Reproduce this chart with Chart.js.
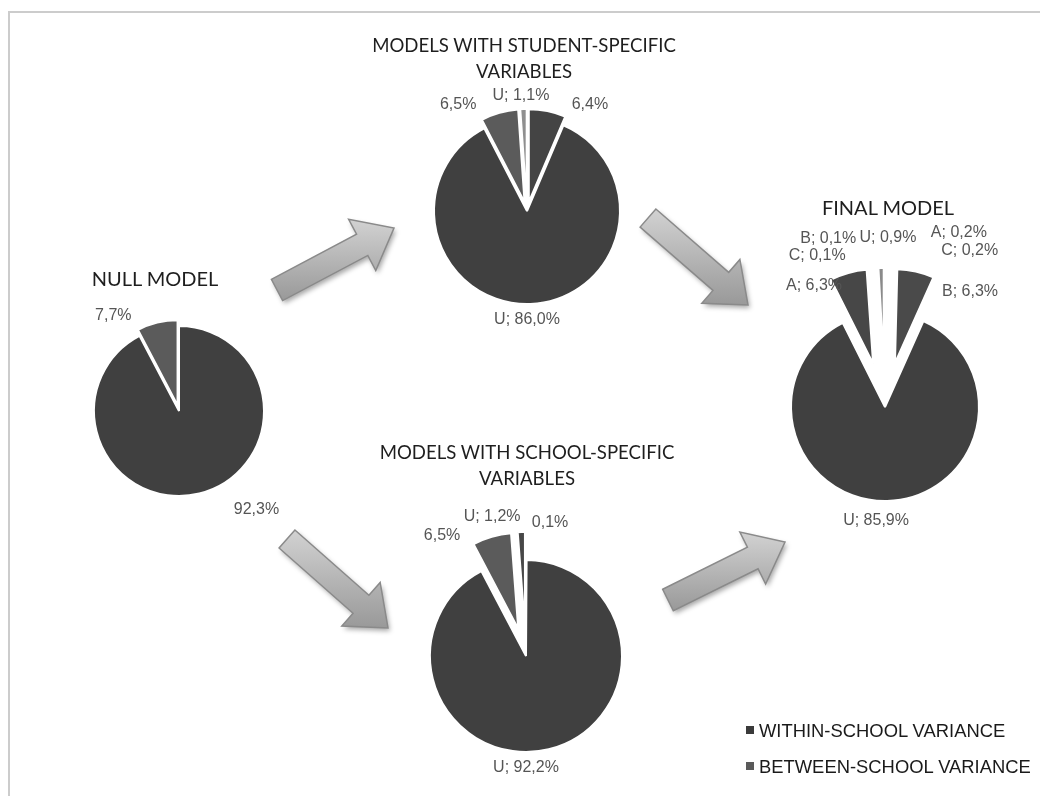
<!DOCTYPE html>
<html lang="en">
<head>
<meta charset="UTF-8">
<title>Variance decomposition</title>
<script src="https://cdn.jsdelivr.net/npm/chart.js"></script>
<style>
    html, body { margin: 0; padding: 0; background: #fff; overflow: hidden; }
    #stage { position: relative; width: 1040px; height: 796px; overflow: hidden; }
    #stage canvas { position: absolute; }
    .title {
        position: absolute;
        transform: translate(-50%, -50%);
        font-family: Lato, "Open Sans", sans-serif;
        font-size: 20px;
        line-height: 26px;
        color: #1e1e1e;
        text-align: center;
        white-space: nowrap;
    }
    .title.long { font-size: 18.6px; }
    .legend {
        position: absolute;
        left: 746px;
        font-family: "Liberation Sans", Arial, sans-serif;
        font-size: 18.4px;
        line-height: 22px;
        color: #1a1a1a;
        white-space: nowrap;
    }
    .legend i { display: inline-block; width: 8px; height: 8px; margin-right: 5px; vertical-align: 3px; }
</style>
</head>
<body>
<div id="stage">
    <canvas id="deco" width="1040" height="796" style="left:0;top:0"></canvas>
    <canvas id="nullPie" width="480" height="480"></canvas>
    <canvas id="studentPie" width="480" height="480"></canvas>
    <canvas id="schoolPie" width="480" height="480"></canvas>
    <canvas id="finalPie" width="480" height="480"></canvas>

    <div class="title long" style="left:524px;top:58px">MODELS WITH STUDENT-SPECIFIC<br>VARIABLES</div>
    <div class="title" style="left:888px;top:207px">FINAL MODEL</div>
    <div class="title" style="left:155px;top:278px">NULL MODEL</div>
    <div class="title long" style="left:527px;top:465px">MODELS WITH SCHOOL-SPECIFIC<br>VARIABLES</div>

    <div class="legend" style="top:720px"><i style="background:#3a3a3a"></i>WITHIN-SCHOOL VARIANCE</div>
    <div class="legend" style="top:756px"><i style="background:#5a5a5a"></i>BETWEEN-SCHOOL VARIANCE</div>
</div>

<script>
    // data: share of total variance (%), clockwise from 12 o'clock
    const nullLabels = ['', ''];
    const nullValues = [92.3, 7.7];

    const studentLabels = ['', 'U', '', 'U'];
    const studentValues = [6.4, 86.0, 6.5, 1.1];

    const schoolLabels = ['', 'U', '', 'U'];
    const schoolValues = [0.1, 92.2, 6.5, 1.2];

    const finalLabels = ['A', 'C', 'B', 'U', 'A', 'C', 'B', 'U'];
    const finalValues = [0.2, 0.2, 6.3, 85.9, 6.3, 0.1, 0.1, 0.9];

    // styling
    const nullColors = ['#404040', '#5b5b5b'];
    const studentColors = ['#444444', '#404040', '#5b5b5b', '#8f8f8f'];
    const schoolColors = ['#444444', '#404040', '#5b5b5b', '#474747'];
    const finalColors = ['#4a4a4a', '#777777', '#4a4a4a', '#404040', '#474747', '#666666', '#555555', '#8a8a8a'];

    // how far each slice is pulled out (px)
    const nullExplode = [0, 6];
    const studentExplode = [9, 0, 9, 9];
    const schoolExplode = [28, 0, 28, 28];
    const finalExplode = [45, 45, 45, 0, 45, 45, 45, 45];

    // label placement: [angle from 12 o'clock in deg, distance from centre]
    const nullLabelAt = [[141.7, 125], [-34.5, 116]];
    const studentLabelAt = [[30.5, 124], [180, 109], [-32.8, 127], [-3, 116]];
    const schoolLabelAt = [[10.2, 136], [180, 112], [-34.8, 147], [-13.7, 143]];
    const finalLabelAt = [[23, 189], [28.4, 178], [36.5, 143], [184.5, 114], [-30.2, 141], [-24.1, 166], [-18.6, 178], [1, 169]];

    // block arrows between the models: tail centre -> tip
    const arrows = [
        [277, 290, 394, 228],
        [648, 218, 748, 305],
        [287, 539, 388, 628],
        [668, 600, 785, 542]
    ];

    // draw each arc shifted outwards without resizing it
    const explodePlugin = {
        id: 'explode',
        beforeDatasetDraw(chart, args) {
            const ds = chart.data.datasets[args.index];
            const ctx = chart.ctx;
            args.meta.data.forEach((arc, i) => {
                const d = ds.explode[i] || 0;
                const mid = (arc.startAngle + arc.endAngle) / 2;
                ctx.save();
                ctx.translate(Math.cos(mid) * d, Math.sin(mid) * d);
                arc.draw(ctx);
                ctx.restore();
            });
            return false;
        }
    };

    const sliceLabels = {
        id: 'sliceLabels',
        afterDatasetsDraw(chart) {
            const ds = chart.data.datasets[0];
            const arcs = chart.getDatasetMeta(0).data;
            const ctx = chart.ctx;
            ctx.save();
            ctx.font = '16px "Liberation Sans", Arial, sans-serif';
            ctx.fillStyle = '#555555';
            ctx.textAlign = 'center';
            ctx.textBaseline = 'middle';
            arcs.forEach((arc, i) => {
                const [deg, dist] = ds.labelAt[i];
                const a = deg * Math.PI / 180;
                const name = chart.data.labels[i];
                const txt = (name ? name + '; ' : '') + ds.data[i].toFixed(1).replace('.', ',') + '%';
                ctx.fillText(txt, arc.x + Math.sin(a) * dist, arc.y - Math.cos(a) * dist);
            });
            ctx.restore();
        }
    };

    function makePie(id, cx, cy, radius, labels, values, colors, explode, labelAt) {
        const canvas = document.getElementById(id);
        canvas.style.left = (cx - canvas.width / 2) + 'px';
        canvas.style.top = (cy - canvas.height / 2) + 'px';
        return new Chart(canvas, {
            type: 'pie',
            data: {
                labels: labels,
                datasets: [{
                    data: values,
                    backgroundColor: colors,
                    borderColor: '#ffffff',
                    borderWidth: 2,
                    explode: explode,
                    labelAt: labelAt
                }]
            },
            options: {
                responsive: false,
                animation: false,
                events: [],
                radius: radius,
                plugins: { legend: { display: false }, tooltip: { enabled: false } }
            },
            plugins: [explodePlugin, sliceLabels]
        });
    }

    makePie('nullPie', 179, 411, 85, nullLabels, nullValues, nullColors, nullExplode, nullLabelAt);
    makePie('studentPie', 527, 211, 93, studentLabels, studentValues, studentColors, studentExplode, studentLabelAt);
    makePie('schoolPie', 526, 656, 96, schoolLabels, schoolValues, schoolColors, schoolExplode, schoolLabelAt);
    makePie('finalPie', 885, 407, 94, finalLabels, finalValues, finalColors, finalExplode, finalLabelAt);

    // frame and arrows
    const deco = document.getElementById('deco').getContext('2d');
    deco.strokeStyle = '#cccccc';
    deco.lineWidth = 2;
    deco.strokeRect(9, 12, 1100, 900);

    function drawArrow(ctx, a) {
        const [x0, y0, x1, y1] = a;
        const len = Math.hypot(x1 - x0, y1 - y0);
        const ux = (x1 - x0) / len, uy = (y1 - y0) / len;
        const nx = -uy, ny = ux;
        const sw = 12, hw = 29, hl = 36;
        const pts = [[0, -sw], [len - hl, -sw], [len - hl, -hw], [len, 0], [len - hl, hw], [len - hl, sw], [0, sw]]
            .map(([s, t]) => [x0 + ux * s + nx * t, y0 + uy * s + ny * t]);
        const ys = pts.map(p => p[1]);
        const g = ctx.createLinearGradient(0, Math.min(...ys), 0, Math.max(...ys));
        g.addColorStop(0, '#d2d2d2');
        g.addColorStop(1, '#999999');
        ctx.save();
        ctx.beginPath();
        pts.forEach((p, i) => i ? ctx.lineTo(p[0], p[1]) : ctx.moveTo(p[0], p[1]));
        ctx.closePath();
        ctx.shadowColor = 'rgba(0,0,0,0.35)';
        ctx.shadowBlur = 5;
        ctx.shadowOffsetX = 2;
        ctx.shadowOffsetY = 3;
        ctx.fillStyle = g;
        ctx.fill();
        ctx.shadowColor = 'transparent';
        ctx.strokeStyle = '#8a8a8a';
        ctx.lineWidth = 1.5;
        ctx.stroke();
        ctx.restore();
    }
    arrows.forEach(a => drawArrow(deco, a));
</script>
</body>
</html>
